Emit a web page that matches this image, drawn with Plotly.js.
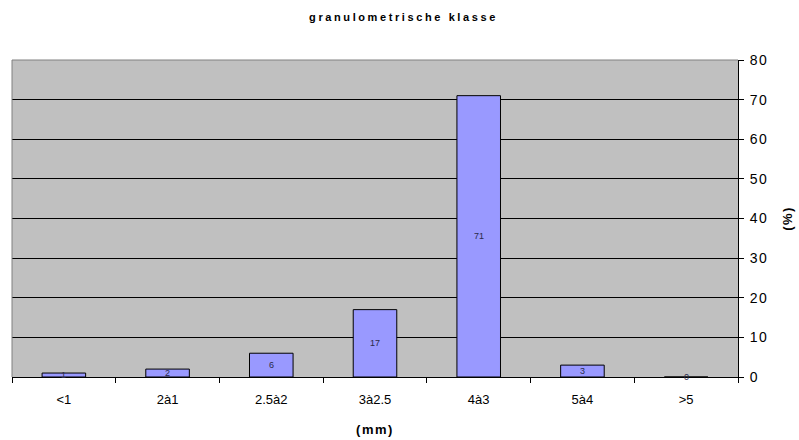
<!DOCTYPE html>
<html>
<head>
<meta charset="utf-8">
<script src="https://cdn.plot.ly/plotly-3.0.1.min.js"></script>
<style>
  body { margin: 0; background: #fff; }
  #chart { width: 799px; height: 440px; }
  .gtitle { letter-spacing: 2.6px; }
  .xtitle, .ytitle { letter-spacing: 1.5px; }
  .ytick text { letter-spacing: 1.5px; }
</style>
</head>
<body>
<div id="chart"></div>
<script>
const categories = ["<1", "2à1", "2.5à2", "3à2.5", "4à3", "5à4", ">5"];
const values = [1, 2, 6, 17, 71, 3, 0];
const yTicks = [0, 10, 20, 30, 40, 50, 60, 70, 80];

const trace = {
  type: "bar",
  x: categories,
  y: values,
  marker: { color: "#9999ff", line: { color: "#000000", width: 1 } },
  hoverinfo: "x+y"
};

const annotations = categories.map((c, i) => ({
  x: c, y: values[i] / 2, xref: "x", yref: "y",
  text: String(values[i]), showarrow: false,
  font: { family: "Liberation Sans, Arial, sans-serif", size: 9, color: "#2a2a4a" }
}));

const layout = {
  width: 799, height: 440,
  margin: { l: 12, r: 61, t: 60, b: 63 },
  paper_bgcolor: "#ffffff",
  plot_bgcolor: "#c0c0c0",
  bargap: 0.58,
  showlegend: false,
  title: {
    text: "<b>granulometrische klasse</b>",
    font: { family: "Liberation Sans, Arial, sans-serif", size: 11, color: "#000" },
    x: 0.505, xref: "container", y: 0.962, yref: "container", yanchor: "middle"
  },
  xaxis: {
    type: "category",
    showline: true, linecolor: "#000", linewidth: 1,
    ticks: "outside", tickson: "boundaries", ticklen: 5, tickcolor: "#000",
    ticklabelstandoff: 10,
    showgrid: false,
    tickfont: { family: "Liberation Sans, Arial, sans-serif", size: 13, color: "#000" },
    title: { text: "<b>(mm)</b>", font: { family: "Liberation Sans, Arial, sans-serif", size: 13, color: "#000" }, standoff: 19 }
  },
  yaxis: {
    side: "right",
    range: [0, 80],
    tickvals: yTicks,
    showline: true, linecolor: "#000", linewidth: 1,
    ticks: "outside", ticklen: 5, tickcolor: "#000",
    ticklabelstandoff: 3,
    showgrid: true, gridcolor: "#000", gridwidth: 1,
    zeroline: false,
    tickfont: { family: "Liberation Sans, Arial, sans-serif", size: 14, color: "#000" },
    title: { text: "<b>(%)</b>", font: { family: "Liberation Sans, Arial, sans-serif", size: 13, color: "#000" }, standoff: 15 }
  },
  shapes: [
    { type: "line", xref: "paper", yref: "paper", x0: 0, x1: 0, y0: 0, y1: 1, line: { color: "#808080", width: 1 } },
    { type: "line", xref: "paper", yref: "paper", x0: 0, x1: 1, y0: 1, y1: 1, line: { color: "#808080", width: 1 } }
  ],
  annotations: annotations
};

Plotly.newPlot("chart", [trace], layout, { displayModeBar: false, staticPlot: true });
</script>
</body>
</html>
